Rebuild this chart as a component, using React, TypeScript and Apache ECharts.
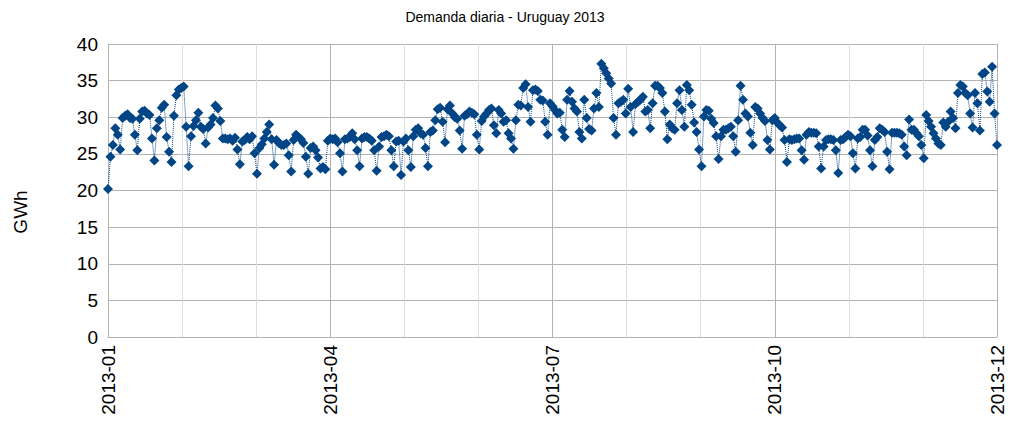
import React, { useEffect, useRef } from "react";
import * as echarts from "echarts";

const jan = [20.2, 24.6, 26.2, 28.5, 27.6, 25.6, 29.9, 30.2, 30.4, 29.9, 29.8, 27.6, 25.5, 29.8, 30.8, 30.9, 30.5, 30.3, 27.1, 24.1, 28.5, 29.6, 31.3, 31.7, 27.3, 25.3, 23.9, 30.2, 33.0, 33.8, 34.0];
const feb = [34.2, 28.7, 23.3, 27.4, 28.8, 29.6, 30.6, 28.7, 28.4, 26.4, 28.6, 29.0, 29.9, 31.6, 31.2, 29.5, 27.1, 27.1, 27.0, 27.1, 26.8, 27.2, 25.6, 23.6, 26.7, 26.9, 27.3, 27.0];
const mar = [27.4, 25.1, 22.3, 25.8, 26.3, 27.1, 28.0, 29.0, 27.0, 23.5, 26.9, 26.5, 26.2, 26.2, 26.4, 24.8, 22.6, 26.9, 27.6, 27.3, 27.0, 26.5, 24.6, 22.3, 25.8, 26.0, 25.5, 24.5, 23.0, 23.2, 22.9];
const apr = [26.8, 27.1, 27.0, 27.1, 26.6, 25.1, 22.6, 27.0, 27.1, 27.3, 27.8, 27.0, 25.5, 23.3, 27.1, 27.3, 27.3, 27.1, 26.8, 25.5, 22.7, 26.0, 27.3, 27.4, 27.6, 27.4, 25.5, 23.3, 26.7, 26.8];
const may = [22.1, 26.7, 27.1, 25.5, 23.2, 27.4, 28.3, 28.5, 27.8, 27.6, 25.8, 23.3, 28.0, 28.2, 29.6, 31.1, 31.3, 29.4, 26.6, 31.1, 31.6, 30.5, 30.0, 29.8, 28.2, 25.7, 30.2, 30.4, 30.8, 30.6, 30.4];
const jun = [27.6, 25.6, 29.5, 30.1, 30.5, 31.0, 31.2, 28.9, 27.8, 31.0, 30.5, 29.4, 29.6, 27.8, 27.1, 25.7, 29.6, 31.7, 31.6, 34.0, 34.5, 31.4, 29.4, 33.7, 33.8, 33.6, 32.4, 32.3, 29.4, 27.6];
const jul = [31.9, 31.5, 31.0, 30.5, 30.6, 28.3, 27.3, 32.4, 33.6, 32.1, 31.2, 30.8, 28.0, 27.1, 32.4, 29.9, 28.4, 28.2, 31.2, 33.3, 31.4, 37.3, 36.7, 36.0, 35.3, 34.6, 29.9, 27.6, 31.9, 32.1, 32.4];
const aug = [30.5, 33.9, 31.4, 28.0, 31.8, 32.1, 32.4, 32.8, 30.8, 31.0, 28.5, 31.9, 34.3, 34.3, 34.0, 33.3, 30.8, 27.0, 29.0, 28.5, 28.3, 31.9, 33.7, 31.0, 28.7, 34.4, 33.7, 31.7, 29.3, 28.0, 25.6];
const sep = [23.3, 30.1, 31.0, 30.9, 29.8, 29.2, 27.4, 24.3, 27.4, 28.3, 28.3, 28.5, 28.7, 27.4, 25.3, 29.6, 34.3, 32.4, 30.5, 30.1, 27.9, 26.2, 31.4, 31.2, 30.5, 29.9, 29.5, 26.9, 25.6, 29.6];
const oct = [29.9, 29.3, 28.9, 28.6, 26.9, 23.9, 27.0, 26.9, 27.0, 27.1, 27.1, 25.5, 24.2, 27.6, 28.0, 27.9, 27.9, 27.8, 26.0, 23.0, 26.0, 26.9, 27.0, 27.0, 26.9, 25.5, 22.4, 26.9, 27.0, 27.3, 27.6];
const nov = [27.4, 25.1, 23.0, 27.1, 27.3, 28.3, 28.3, 27.5, 25.5, 23.3, 26.9, 27.3, 28.5, 28.3, 28.0, 25.3, 22.9, 27.9, 27.9, 27.9, 27.8, 27.6, 26.0, 24.8, 29.7, 28.3, 28.3, 27.8, 27.4, 26.2];
const dec = [24.4, 30.3, 29.5, 28.7, 27.8, 27.1, 26.4, 26.2, 29.3, 28.7, 29.4, 30.8, 29.9, 28.5, 33.3, 34.4, 34.2, 33.3, 33.0, 30.5, 28.6, 33.3, 31.9, 28.2, 35.9, 36.1, 33.5, 32.1, 36.9, 30.5, 26.2];

const tickPositions = [0, 3, 6, 9, 12];
const tickLabels = ["2013-01", "2013-04", "2013-07", "2013-10", "2013-12"];

const FONT = "'Liberation Sans', Arial, sans-serif";

export default function App() {
  const ref = useRef<HTMLDivElement>(null);
  useEffect(() => {
    if (!ref.current) return;
    const chart = echarts.init(ref.current, undefined, { renderer: "svg" });
    const values = [...jan, ...feb, ...mar, ...apr, ...may, ...jun, ...jul, ...aug, ...sep, ...oct, ...nov, ...dec];
    const n = values.length;
    const points = values.map((v, i) => [(i * 12) / (n - 1), v]);
    chart.setOption({
      animation: false,
      backgroundColor: "#ffffff",
      textStyle: { fontFamily: FONT },
      title: {
        text: "Demanda diaria - Uruguay 2013",
        left: "center",
        top: 5,
        textStyle: { fontFamily: FONT, fontSize: 14, fontWeight: "normal", color: "#000" },
      },
      grid: { left: 108, right: 13, top: 44, bottom: 88, containLabel: false },
      xAxis: {
        type: "value",
        min: 0,
        max: 12,
        interval: 3,
        axisLine: { show: true, lineStyle: { color: "#b3b3b3" } },
        axisTick: { show: false },
        minorTick: { show: false, splitNumber: 3 },
        minorSplitLine: { show: true, lineStyle: { color: "#dddddd", width: 1 } },
        splitLine: { show: true, lineStyle: { color: "#b3b3b3", width: 1 } },
        axisLabel: {
          rotate: 90,
          margin: 8,
          fontSize: 19,
          color: "#000",
          fontFamily: FONT,
          formatter: (v: number) => {
            const idx = tickPositions.indexOf(Math.round(v * 1000) / 1000);
            return idx >= 0 ? tickLabels[idx] : "";
          },
        },
      },
      yAxis: {
        type: "value",
        min: 0,
        max: 40,
        interval: 5,
        axisLine: { show: true, lineStyle: { color: "#b3b3b3" } },
        axisTick: { show: false },
        splitLine: { show: true, lineStyle: { color: "#b3b3b3", width: 1 } },
        axisLabel: { fontSize: 19, color: "#000", margin: 10, fontFamily: FONT },
      },
      graphic: [
        {
          type: "text",
          x: 20,
          y: 212,
          rotation: Math.PI / 2,
          style: {
            text: "GWh",
            fontSize: 19,
            fontFamily: FONT,
            fill: "#000",
            textAlign: "center",
            textVerticalAlign: "middle",
          },
        },
      ],
      series: [
        {
          type: "line",
          data: points,
          symbol: "diamond",
          symbolSize: 10,
          showAllSymbol: true,
          itemStyle: { color: "#004586" },
          lineStyle: { color: "#004586", width: 1, type: "dotted" },
        },
      ],
    });
    return () => chart.dispose();
  }, []);
  return <div ref={ref} style={{ position: "fixed", left: 0, top: 0, width: 1010, height: 425 }} />;
}
